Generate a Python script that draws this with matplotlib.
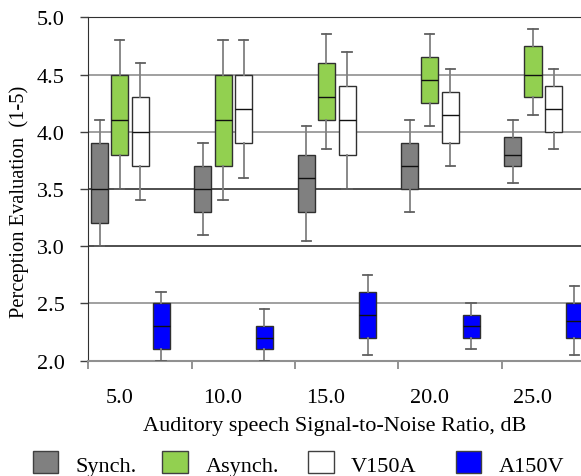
import matplotlib
matplotlib.use("Agg")
import matplotlib.pyplot as plt
from matplotlib.patches import Rectangle

plt.rcParams['font.family'] = ['Liberation Serif', 'DejaVu Serif']

snr_labels = ["5.0", "10.0", "15.0", "20.0", "25.0"]
series_names = ["Synch.", "Asynch.", "V150A", "A150V"]
series_colors = ["#808080", "#92D050", "#FFFFFF", "#0000FF"]

# each series: [whisker_low, q1, median, q3, whisker_high] per SNR
synch = [
    [3.0, 3.2, 3.5, 3.9, 4.1],
    [3.1, 3.3, 3.5, 3.7, 3.9],
    [3.05, 3.3, 3.6, 3.8, 4.05],
    [3.3, 3.5, 3.7, 3.9, 4.1],
    [3.55, 3.7, 3.8, 3.95, 4.1],
]
asynch = [
    [3.5, 3.8, 4.1, 4.5, 4.8],
    [3.4, 3.7, 4.1, 4.5, 4.8],
    [3.85, 4.1, 4.3, 4.6, 4.85],
    [4.05, 4.25, 4.45, 4.65, 4.85],
    [4.15, 4.3, 4.5, 4.75, 4.9],
]
v150a = [
    [3.4, 3.7, 4.0, 4.3, 4.6],
    [3.6, 3.9, 4.2, 4.5, 4.8],
    [3.5, 3.8, 4.1, 4.4, 4.7],
    [3.7, 3.9, 4.15, 4.35, 4.55],
    [3.85, 4.0, 4.2, 4.4, 4.55],
]
a150v = [
    [2.0, 2.1, 2.3, 2.5, 2.6],
    [2.0, 2.1, 2.2, 2.3, 2.45],
    [2.05, 2.2, 2.4, 2.6, 2.75],
    [2.1, 2.2, 2.3, 2.4, 2.5],
    [2.05, 2.2, 2.35, 2.5, 2.65],
]
all_series = [synch, asynch, v150a, a150v]

FS = 16
W, H = 581, 477
fig = plt.figure(figsize=(W / 100, H / 100), dpi=100)
ax_left, ax_right = 88.3, 581.0
ax_top, ax_bottom = 18.3, 361.7
ax = fig.add_axes([ax_left / W, 1 - ax_bottom / H, (ax_right - ax_left) / W, (ax_bottom - ax_top) / H])

group_px = 103.3
offsets = [0.11, 0.305, 0.505, 0.705]
box_w = 0.165

for s_idx, series in enumerate(all_series):
    stats = []
    for vals in series:
        lo, q1, med, q3, hi = vals
        stats.append(dict(whislo=lo, q1=q1, med=med, q3=q3, whishi=hi, fliers=[]))
    positions = [i + offsets[s_idx] for i in range(len(series))]
    ax.bxp(stats, positions=positions, widths=box_w, capwidths=0.09,
           showfliers=False, patch_artist=True, manage_ticks=False,
           boxprops=dict(facecolor=series_colors[s_idx], edgecolor="#303030", linewidth=1.0),
           medianprops=dict(color="#101010", linewidth=1.0),
           whiskerprops=dict(color="#808080", linewidth=1.3),
           capprops=dict(color="#606060", linewidth=1.3), zorder=3)

ax.set_xlim(0, (ax_right - ax_left) / group_px)
ax.set_ylim(2.0, 5.0)
ax.set_yticks([2.0, 2.5, 3.0, 3.5, 4.0, 4.5, 5.0])
ax.set_yticklabels(["2.0", "2.5", "3.0", "3.5", "4.0", "4.5", "5.0"], fontsize=FS)
ax.set_xticks(range(len(snr_labels)))
ax.set_xticklabels([])
ax.set_xticks([i + 0.30 for i in range(len(snr_labels))], minor=True)
ax.set_xticklabels(snr_labels, minor=True, fontsize=FS)
ax.tick_params(axis='x', which='major', direction='out', length=6, color="#808080", width=1.2)
ax.tick_params(axis='x', which='minor', length=0, pad=20)
ax.tick_params(axis='y', direction='out', length=6, color="#404040", width=1.0, pad=11)

ax.yaxis.grid(True, zorder=0)
grid_colors = ["#909090", "#909090", "#303030", "#303030", "#909090", "#909090", "#303030"]
for gl, c in zip(ax.get_ygridlines(), grid_colors):
    gl.set_color(c)
    gl.set_linewidth(1.2)
ax.set_axisbelow(True)

ax.spines['right'].set_visible(False)
ax.spines['top'].set_color("#303030")
ax.spines['left'].set_color("#303030")
ax.spines['bottom'].set_color("#909090")
ax.spines['bottom'].set_linewidth(1.5)

ax.set_xlabel("Auditory speech Signal-to-Noise Ratio, dB", fontsize=FS, labelpad=6)
ax.set_ylabel("Perception Evaluation  (1-5)", fontsize=14.8)
ax.yaxis.set_label_coords((29 - ax_left) / (ax_right - ax_left), (ax_bottom - 202) / (ax_bottom - ax_top))

# legend drawn in figure pixel coordinates
patch_x = [32.5, 162.3, 308.3, 455.7]
text_x = [75.6, 206.0, 351.0, 498.3]
for px, tx, name, col in zip(patch_x, text_x, series_names, series_colors):
    fig.add_artist(Rectangle((px / W, 1 - 473.5 / H), 25.5 / W, 22 / H, transform=fig.transFigure,
                             facecolor=col, edgecolor="#404040", linewidth=1.0))
    fig.text(tx / W, 1 - 471.7 / H, name, fontsize=FS, ha='left', va='baseline')

fig.savefig("out.png", dpi=100)
